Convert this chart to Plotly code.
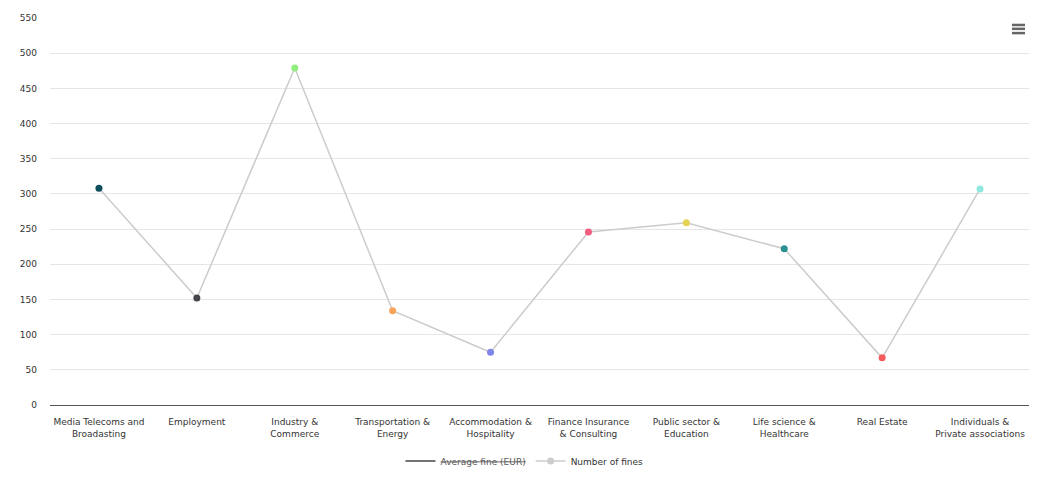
import plotly.graph_objects as go

categories = [
    "Media Telecoms and<br>Broadasting",
    "Employment",
    "Industry &<br>Commerce",
    "Transportation &<br>Energy",
    "Accommodation &<br>Hospitality",
    "Finance Insurance<br>& Consulting",
    "Public sector &<br>Education",
    "Life science &<br>Healthcare",
    "Real Estate",
    "Individuals &<br>Private associations",
]
number_of_fines = [308, 152, 479, 134, 75, 246, 259, 222, 67, 307]
point_colors = ["#0d4f5c", "#434348", "#90ed7d", "#f7a35c", "#8085e9",
                "#f15c80", "#e4d354", "#2b908f", "#f45b5b", "#91e8e1"]
y_ticks = list(range(0, 551, 50))

FONT = "DejaVu Sans"

fig = go.Figure()
# hidden series "Average fine (EUR)": only its (struck-through) legend entry is shown
fig.add_trace(go.Scatter(
    x=[categories[0]], y=[None], mode="lines",
    name="<span style='color:#5a5a5a'><s>Average fine (EUR)</s></span>",
    line=dict(color="#444444", width=1.5),
))
# legend entry for Number of fines (gray symbol like the reference)
fig.add_trace(go.Scatter(
    x=[categories[0]], y=[None], mode="lines+markers", name="Number of fines",
    line=dict(color="#cccccc", width=1.5), marker=dict(size=7, color="#cccccc"),
    legendgroup="nf",
))
fig.add_trace(go.Scatter(
    x=categories, y=number_of_fines, mode="lines+markers", name="Number of fines",
    line=dict(color="#cccccc", width=1.5),
    marker=dict(size=7, color=point_colors, line=dict(width=0)),
    legendgroup="nf", showlegend=False,
))

# export menu icon
for yy in (0.982, 0.972, 0.961):
    fig.add_shape(type="line", xref="paper", yref="paper",
                  x0=0.9826, x1=0.9959, y0=yy, y1=yy,
                  line=dict(color="#666666", width=2.5))

fig.update_layout(
    width=1049, height=477,
    margin=dict(l=50, r=20, t=18, b=72, autoexpand=False),
    paper_bgcolor="white", plot_bgcolor="white",
    font=dict(family=FONT, size=9, color="#333333"),
    showlegend=True,
    legend=dict(orientation="h", x=0.5, xref="container", xanchor="center",
                y=(477 - 461) / 477, yref="container", yanchor="middle",
                font=dict(family=FONT, size=9, color="#333333"), itemwidth=30),
    xaxis=dict(type="category", range=[-0.5, 9.5], showgrid=False, automargin=False,
               showline=True, linecolor="#555555", linewidth=1,
               ticks="", ticklabelstandoff=8, tickfont=dict(size=9, color="#333333")),
    yaxis=dict(range=[0, 550], tickvals=y_ticks, showgrid=True, gridcolor="#e6e6e6",
               automargin=False,
               zeroline=False, showline=False, ticks="", ticklabelstandoff=12,
               tickfont=dict(size=9, color="#333333")),
    hovermode="closest",
)

fig.write_html("out.html", config={"displayModeBar": False},
               post_script="document.body.style.margin='0';document.body.style.padding='0';")
